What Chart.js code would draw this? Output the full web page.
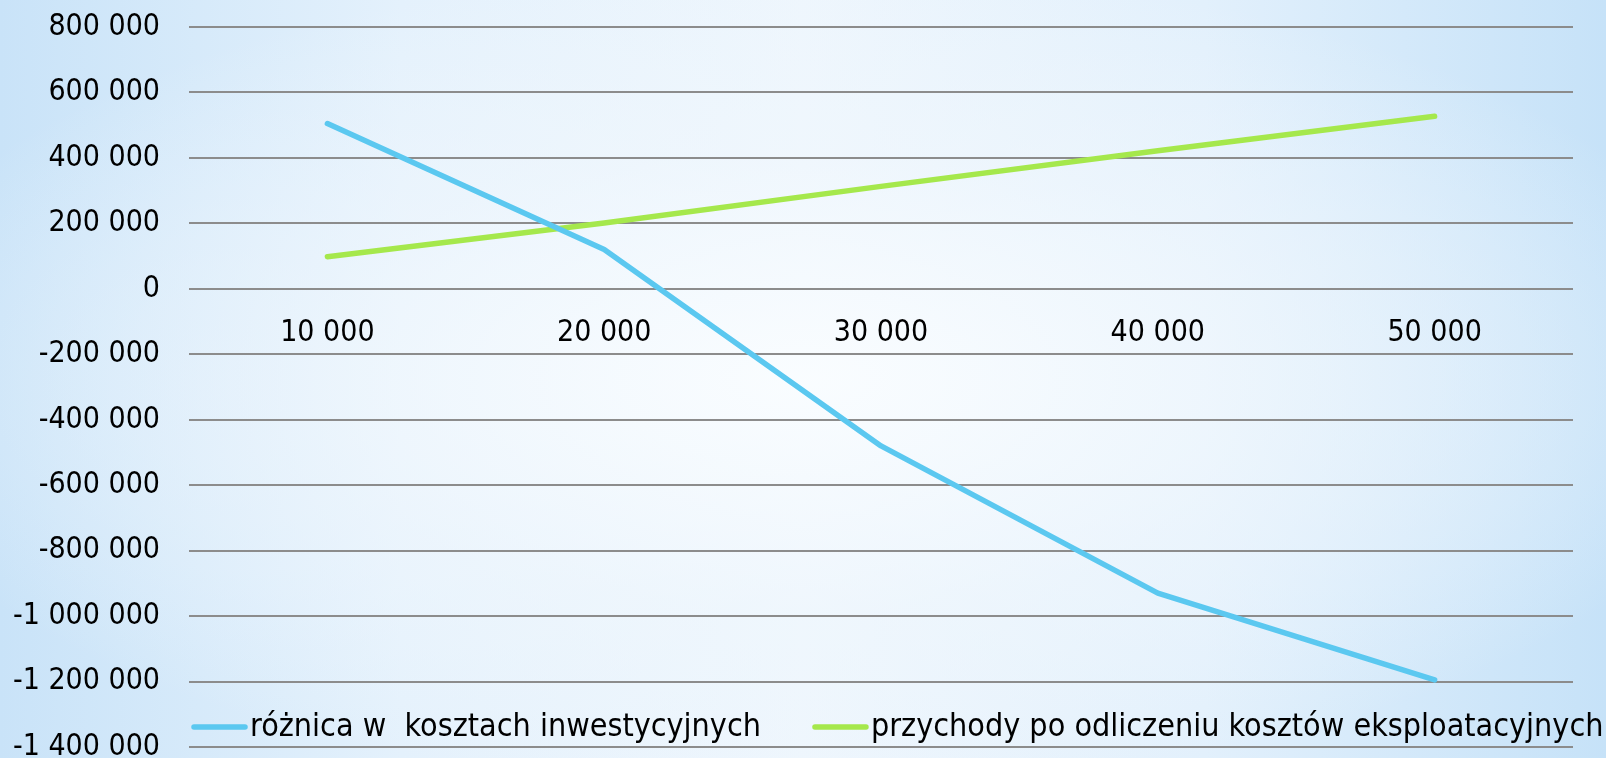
<!DOCTYPE html>
<html>
<head>
<meta charset="utf-8">
<script src="https://cdn.jsdelivr.net/npm/chart.js@4/dist/chart.umd.min.js"></script>
<style>
  html, body { margin: 0; padding: 0; width: 1606px; height: 758px; overflow: hidden; }
  body {
    position: relative;
    background:
      radial-gradient(ellipse 60% 55% at 50% 50%, rgba(250,253,255,0.95) 0%, rgba(240,247,253,0.6) 55%, rgba(240,247,253,0) 100%),
      linear-gradient(90deg, #c9e3f8 0%, #e4f1fc 25%, #eef6fd 50%, #e2f0fc 75%, #c6e2f8 100%);
  }
  #wrap { position: absolute; left: 0; top: -20px; width: 1606px; height: 814px; }
</style>
</head>
<body>
<div id="wrap"><canvas id="myChart"></canvas></div>
<script>
const ctx = document.getElementById('myChart');

const labels = ['10 000', '20 000', '30 000', '40 000', '50 000'];
const roznica = [505000, 120000, -480000, -930000, -1195000];
const przychody = [98000, 201000, 313000, 422000, 527000];
const seriesNames = ['różnica w  kosztach inwestycyjnych', 'przychody po odliczeniu kosztów eksploatacyjnych'];
const seriesColors = ['#5bc8f0', '#a5e84c'];

const FONT = '"DejaVu Sans Condensed", "DejaVu Sans", sans-serif';

function fmt(v) {
    const s = Math.abs(v).toString().replace(/\B(?=(\d{3})+(?!\d))/g, ' ');
    return (v < 0 ? '-' : '') + s;
}

// legend drawn over the bottom of the plot, like the original
const bottomLegend = {
    id: 'bottomLegend',
    afterDraw(chart) {
        const c = chart.ctx;
        const y = 747;   // canvas is shifted up by 20px
        let x = 191;
        c.save();
        c.font = '32px ' + FONT;
        c.textBaseline = 'middle';
        c.lineCap = 'round';
        chart.data.datasets.forEach((ds) => {
            c.strokeStyle = ds.borderColor;
            c.lineWidth = 5.5;
            c.beginPath();
            c.moveTo(x + 3, y);
            c.lineTo(x + 54, y);
            c.stroke();
            x += 59;
            c.fillStyle = '#000';
            c.fillText(ds.label, x, y + 1);
            x += c.measureText(ds.label).width + 51;
        });
        c.restore();
    }
};

new Chart(ctx, {
    type: 'line',
    data: {
        labels: labels,
        datasets: [
            {
                label: seriesNames[0],
                data: roznica,
                borderColor: seriesColors[0],
                borderWidth: 5.5,
                pointRadius: 0,
                borderCapStyle: 'round',
                borderJoinStyle: 'round',
                fill: false,
                tension: 0
            },
            {
                label: seriesNames[1],
                data: przychody,
                borderColor: seriesColors[1],
                borderWidth: 5.5,
                pointRadius: 0,
                borderCapStyle: 'round',
                borderJoinStyle: 'round',
                fill: false,
                tension: 0
            }
        ]
    },
    options: {
        responsive: true,
        maintainAspectRatio: false,
        animation: false,
        layout: {
            padding: { top: 7, bottom: 12, right: 33, left: 0 }
        },
        plugins: {
            legend: { display: false },
            tooltip: { enabled: false }
        },
        scales: {
            x: {
                position: { y: 0 },
                offset: true,
                afterFit: (scale) => { scale.height = 0; },
                grid: { display: false },
                border: { display: false },
                ticks: {
                    color: '#000',
                    font: { family: FONT, size: 30 },
                    padding: 18,
                    maxRotation: 0
                }
            },
            y: {
                min: -1400000,
                max: 800000,
                afterFit: (scale) => { scale.width = 189; },
                grid: {
                    color: '#8c8c8c',
                    lineWidth: 2,
                    drawTicks: false
                },
                border: { display: false },
                ticks: {
                    stepSize: 200000,
                    color: '#000',
                    font: { family: FONT, size: 30 },
                    padding: 29,
                    callback: (v) => fmt(v)
                }
            }
        }
    },
    plugins: [bottomLegend]
});
</script>
</body>
</html>
